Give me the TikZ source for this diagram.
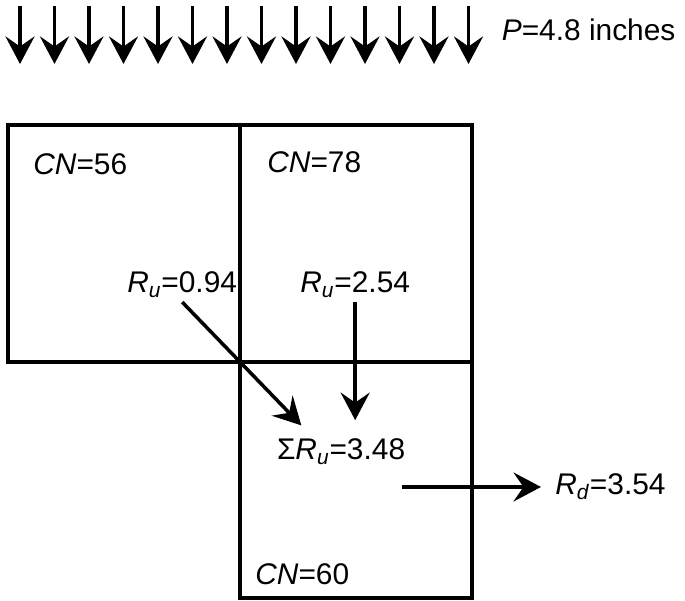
\documentclass[tikz,border=0pt]{standalone}
\usepackage{fontspec}
\setmainfont{Liberation Sans}
\usetikzlibrary{arrows.meta,positioning,calc}

\begin{document}
\begin{tikzpicture}[
    cell/.style={rectangle, draw, line width=2pt, inner sep=0pt, minimum width=4.64cm},
    lbl/.style={anchor=base west, inner sep=0.08cm, font=\fontsize{17}{20}\selectfont},
    flow/.style={line width=2pt, -{Stealth[length=0.55cm,width=0.58cm,inset=0.2cm]}},
    >=Stealth
]
    \useasboundingbox (0,0) rectangle (13.7,12.02);

    % Rainfall
    \foreach \i in {0,...,13}
        \draw[flow] (0.4+0.69*\i,11.9) -- ++(0,-1.16);
    \node[lbl] (rain) at (9.95,11.2) {\textit{P}=4.8 inches};

    % Subareas
    \node[cell, minimum height=4.74cm] (a1) at (2.48,7.15) {};
    \node[cell, minimum height=4.74cm] (a2) at (7.12,7.15) {};
    \node[cell, minimum height=4.72cm] (a3) at (7.12,2.42) {};

    \node[lbl] (cn1) at (0.58,8.52) {\textit{CN}=56};
    \node[lbl] (cn2) at (5.26,8.56) {\textit{CN}=78};
    \node[lbl] (cn3) at (5.02,0.32) {\textit{CN}=60};

    % Runoff
    \node[lbl] (ru1) at (2.46,6.16) {\textit{R}\textsubscript{\textit{u}}=0.94};
    \node[lbl] (ru2) at (5.92,6.16) {\textit{R}\textsubscript{\textit{u}}=2.54};
    \node[lbl, outer sep=0.3cm] (sum) at (5.16,2.82) {Σ\textit{R}\textsubscript{\textit{u}}=3.48};
    \node[lbl] (rd) at (11.02,2.12) {\textit{R}\textsubscript{\textit{d}}=3.54};
    \coordinate (out) at (8.04,2.28);

    \draw[flow] (ru1.south) -- ($(ru1.south)!2!(a1.south east)$);
    \draw[flow] (ru2.south) -- (ru2.south |- sum.north);
    \draw[flow, shorten >=0.2cm] (out) -- (out -| rd.west);
\end{tikzpicture}
\end{document}
